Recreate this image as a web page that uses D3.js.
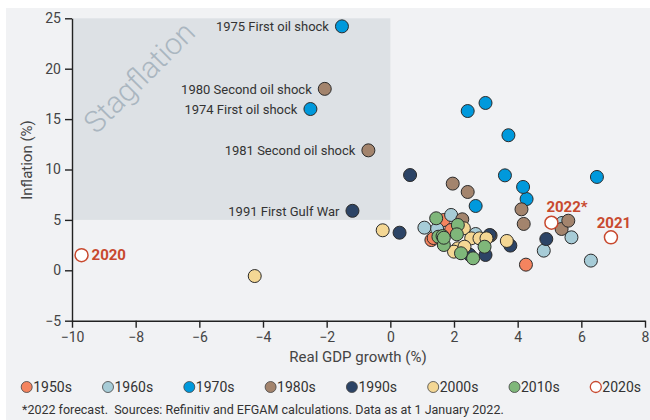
<!DOCTYPE html>
<html>
<head>
<meta charset="utf-8">
<script src="https://cdn.jsdelivr.net/npm/d3@7"></script>
<style>
  html, body { margin: 0; padding: 0; background: #fff; }
  svg { display: block; font-family: Roboto, "Noto Sans", sans-serif; }
  .tick text { fill: #444; font-size: 14px; }
  .axis path, .axis line { stroke: #222; stroke-width: 1.4; }
</style>
</head>
<body>
<div id="chart"></div>
<script>
// decades (legend order) and their [GDP growth %, inflation %] points
const decades = ["1950s", "1960s", "1970s", "1980s", "1990s", "2000s", "2010s", "2020s"];
const colors  = ["#f4845f", "#a7ccd7", "#0099dc", "#a3846d", "#2c4466", "#f4d794", "#7fb77a", "#ffffff"];

const pts1950s = [[1.29, 3.0], [1.36, 3.2], [1.68, 4.99], [1.91, 4.0], [4.26, 0.56]];
const pts1960s = [[1.91, 5.49], [1.07, 4.23], [1.47, 4.1], [2.68, 3.6], [5.4, 4.7],
                  [5.69, 3.27], [4.82, 1.95], [6.3, 0.96]];
const pts1970s = [[2.68, 6.38], [3.6, 9.42], [4.28, 7.07], [6.49, 9.26], [-2.51, 16.0],
                  [-1.52, 24.2], [2.99, 16.6], [2.43, 15.8], [4.17, 8.27], [3.71, 13.4]];
const pts1980s = [[-2.06, 18.0], [-0.69, 11.9], [1.96, 8.6], [4.12, 6.05], [2.26, 5.06],
                  [3.15, 3.45], [5.38, 4.1], [5.59, 4.92], [2.43, 7.77], [4.19, 4.6]];
const pts1990s = [[0.62, 9.45], [-1.19, 5.9], [0.29, 3.73], [2.49, 1.55], [3.77, 2.45],
                  [3.12, 3.5], [2.99, 1.52], [4.9, 3.1]];
const pts2000s = [[3.66, 2.91], [2.31, 4.17], [2.54, 3.17], [2.8, 3.17], [3.02, 3.17],
                  [2.12, 2.18], [2.0, 1.85], [2.33, 2.34], [-0.24, 3.97], [-4.26, -0.57]];
const pts2010s = [[1.44, 5.16], [2.12, 4.5], [1.51, 3.33], [1.64, 3.4], [1.68, 2.51],
                  [2.09, 3.57], [2.96, 2.34], [2.6, 1.19], [2.22, 1.69], [1.68, 3.23]];
const pts2020s = [[-9.7, 1.5], [6.93, 3.27], [5.06, 4.72]];
const series = [pts1950s, pts1960s, pts1970s, pts1980s, pts1990s, pts2000s, pts2010s, pts2020s];

// labelled events (drawn to the left of their point)
const eventLabels = ["1975 First oil shock", "1980 Second oil shock", "1974 First oil shock",
                     "1981 Second oil shock", "1991 First Gulf War"];
const eventPoints = [[-1.52, 24.2], [-2.06, 18.0], [-2.51, 16.0], [-0.69, 11.9], [-1.19, 5.9]];

const recentLabels = ["2020", "2021", "2022*"];

const xTicks = [-10, -8, -6, -4, -2, 0, 2, 4, 6, 8];
const yTicks = [-5, 0, 5, 10, 15, 20, 25];
const stagX = [-10, 0], stagY = [5, 25];

const W = 650, H = 420;
const RED = "#c8492e";
const R = 6.5;

const svg = d3.select("#chart").append("svg")
  .attr("width", W)
  .attr("height", H);

svg.append("rect")
  .attr("x", 6).attr("y", 8)
  .attr("width", W - 6).attr("height", H - 8)
  .attr("fill", "#f1f2f4");

const x = d3.scaleLinear().domain([-10, 8]).range([72, 645]);
const y = d3.scaleLinear().domain([-5, 25]).range([320.7, 18.3]);

// stagflation zone
svg.append("rect")
  .attr("x", x(stagX[0]))
  .attr("y", y(stagY[1]))
  .attr("width", x(stagX[1]) - x(stagX[0]))
  .attr("height", y(stagY[0]) - y(stagY[1]))
  .attr("fill", "#dde1e5");

svg.append("text")
  .attr("transform", "translate(141,79) rotate(-45)")
  .attr("text-anchor", "middle")
  .attr("dominant-baseline", "middle")
  .attr("font-size", 30)
  .attr("font-weight", 300)
  .attr("fill", "#aab6c0")
  .text("Stagflation");

// axes
svg.append("g")
  .attr("class", "axis")
  .attr("transform", `translate(0,${y(-5)})`)
  .call(d3.axisBottom(x).tickValues(xTicks).tickSize(7).tickPadding(4).tickSizeOuter(0));

svg.append("g")
  .attr("class", "axis")
  .attr("transform", `translate(${x(-10)},0)`)
  .call(d3.axisLeft(y).tickValues(yTicks).tickSize(7).tickPadding(4).tickSizeOuter(0));

svg.selectAll(".tick text").attr("font-family", "Roboto, sans-serif");

svg.append("text")
  .attr("x", 358).attr("y", 362)
  .attr("text-anchor", "middle")
  .attr("font-size", 15)
  .attr("fill", "#444")
  .text("Real GDP growth (%)");

svg.append("text")
  .attr("transform", "translate(32,160) rotate(-90)")
  .attr("text-anchor", "middle")
  .attr("font-size", 15)
  .attr("fill", "#444")
  .text("Inflation (%)");

// points, drawn in chronological order
series.forEach((pts, i) => {
  const recent = decades[i] === "2020s";
  svg.append("g")
    .selectAll("circle")
    .data(pts)
    .join("circle")
    .attr("cx", d => x(d[0]))
    .attr("cy", d => y(d[1]))
    .attr("r", R)
    .attr("fill", colors[i])
    .attr("stroke", recent ? RED : "#2b2b2b")
    .attr("stroke-width", recent ? 1.5 : 1);
});

// event annotations
svg.append("g")
  .selectAll("text")
  .data(eventPoints)
  .join("text")
  .attr("x", d => x(d[0]) - 13)
  .attr("y", d => y(d[1]))
  .attr("dy", "0.36em")
  .attr("text-anchor", "end")
  .attr("font-size", 13)
  .attr("fill", "#333")
  .text((d, i) => eventLabels[i]);

// 2020s labels
const recentPos = [
  { dx: 10, dy: 5, anchor: "start" },
  { dx: 3, dy: -9, anchor: "middle" },
  { dx: -5, dy: -11, anchor: "start" }
];
svg.append("g")
  .selectAll("text")
  .data(pts2020s)
  .join("text")
  .attr("x", (d, i) => x(d[0]) + recentPos[i].dx)
  .attr("y", (d, i) => y(d[1]) + recentPos[i].dy)
  .attr("text-anchor", (d, i) => recentPos[i].anchor)
  .attr("font-size", 15)
  .attr("font-weight", 700)
  .attr("fill", RED)
  .text((d, i) => recentLabels[i]);

// legend
const leg = svg.append("g").attr("transform", "translate(26.7,387)");
decades.forEach((dec, i) => {
  const g = leg.append("g").attr("transform", `translate(${i * 81.3},0)`);
  g.append("circle")
    .attr("r", 5.5)
    .attr("fill", colors[i])
    .attr("stroke", dec === "2020s" ? RED : "#444")
    .attr("stroke-width", dec === "2020s" ? 1.3 : 0.8);
  g.append("text")
    .attr("x", 6.5)
    .attr("dy", "0.36em")
    .attr("font-size", 14)
    .attr("fill", "#333")
    .text(dec);
});

svg.append("text")
  .attr("x", 22).attr("y", 414)
  .attr("font-size", 12.5)
  .attr("fill", "#333")
  .attr("xml:space", "preserve")
  .text("*2022 forecast.  Sources: Refinitiv and EFGAM calculations. Data as at 1 January 2022.");
</script>
</body>
</html>
